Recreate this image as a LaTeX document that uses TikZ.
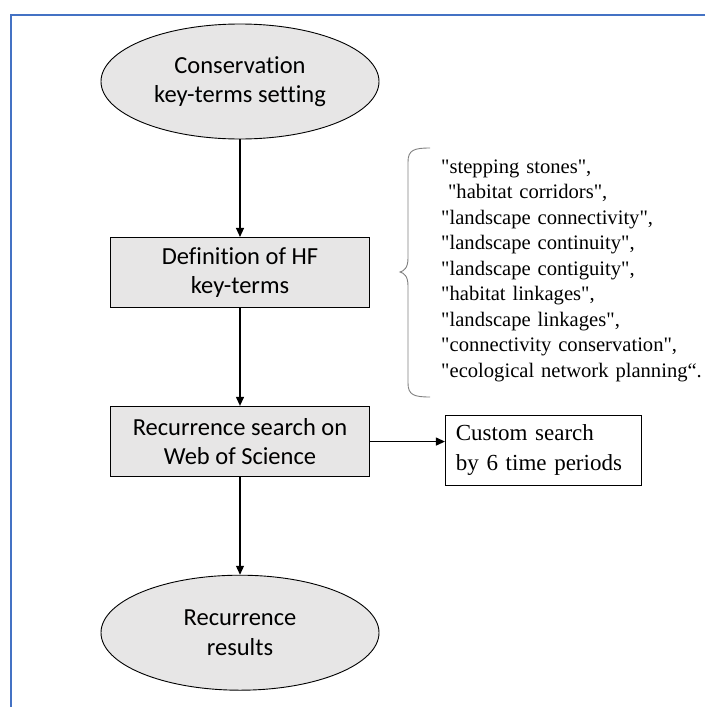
\documentclass[tikz,border=0pt]{standalone}
\usepackage{fontspec}
\setmainfont{Liberation Serif}[Ligatures=TeXOff]
\newfontfamily\boxfont{Carlito}[Ligatures=NoCommon]
\usetikzlibrary{arrows.meta, positioning, shapes.geometric}
\definecolor{frameblue}{HTML}{4472C4}
\definecolor{boxgray}{HTML}{E7E6E6}
\definecolor{bracegray}{HTML}{808080}

\begin{document}
\begin{tikzpicture}[
  x=1pt, y=-1pt,
  node distance=97.5pt and 75pt,
  oval/.style={ellipse, draw=black, line width=0.9pt, fill=boxgray,
               minimum width=278pt, minimum height=115pt, inner sep=0pt,
               align=center, font=\boxfont\fontsize{24.5}{29.5}\selectfont},
  stage/.style={rectangle, draw=black, line width=0.9pt, fill=boxgray,
                minimum width=259pt, minimum height=70.5pt,
                align=center, font=\boxfont\fontsize{24.5}{29.5}\selectfont},
  notebox/.style={rectangle, draw=black, line width=0.9pt, text width=175pt,
                  inner xsep=10.5pt, minimum height=70pt, align=left,
                  font=\fontsize{23}{30}\selectfont},
  arrow/.style={-{Triangle[length=9pt, width=8pt]}, line width=1.2pt},
  brace/.style={draw=bracegray, line width=0.9pt},
  frame/.style={draw=frameblue, line width=2pt}
]
  \useasboundingbox (0,0) rectangle (705,707);
  \draw[frame] (705,14.5) -- (11,14.5) -- (11,707);

  \node[oval] (setting) at (240,81.5) {Conservation\\key-terms setting};
  \node[stage, below=of setting] (definition) {Definition of HF\\key-terms};
  \node[stage, below=of definition] (search) {Recurrence search on\\Web of Science};
  \node[oval, below=of search] (results) {Recurrence\\results};
  \node[notebox, right=of search, yshift=-8.5pt] (custom) {Custom search\\by 6 time periods};

  % list of HF key-terms
  \node[anchor=base west, inner sep=0pt, text width=300pt, align=left,
        font=\fontsize{20.6}{25.5}\selectfont] (terms) at (441,173)
    {"stepping stones",\\
     \ "habitat corridors",\\
     "landscape connectivity",\\
     "landscape continuity",\\
     "landscape contiguity",\\
     "habitat linkages",\\
     "landscape linkages",\\
     "connectivity conservation",\\
     "ecological network planning“.};
  \draw[brace] (430,148) .. controls (414,148) and (408,150) .. (408,162)
    -- (408,258) .. controls (408,268) and (404,271) .. (400,272)
    .. controls (404,273) and (408,276) .. (408,286)
    -- (408,383) .. controls (408,395) and (414,397) .. (430,397);

  \draw[arrow] (setting) -- (definition);
  \draw[arrow] (definition) -- (search);
  \draw[arrow] (search) -- (results);
  \draw[arrow] (search.east) -- (search.east -| custom.west);
\end{tikzpicture}
\end{document}
